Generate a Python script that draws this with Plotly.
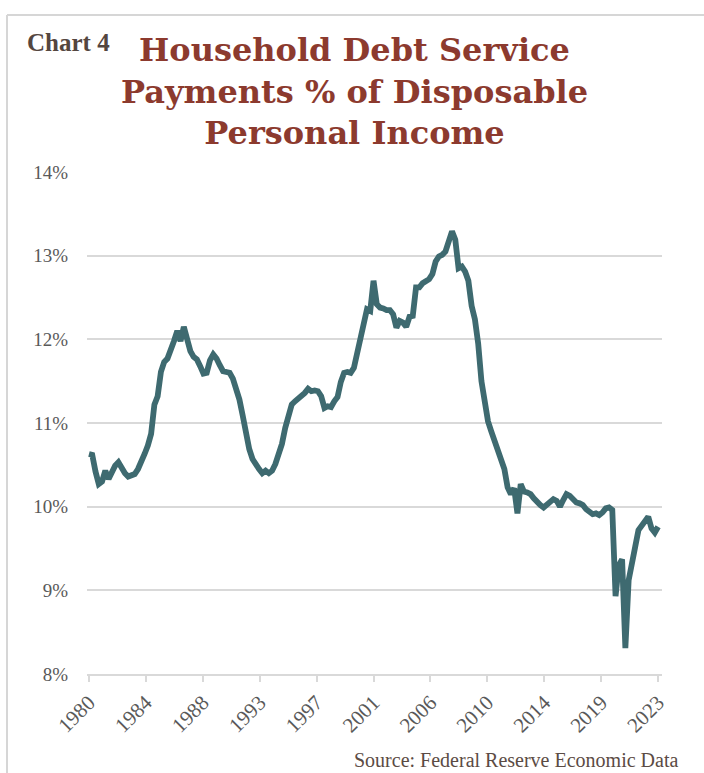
import numpy as np
import pandas as pd
import plotly.graph_objects as go

# Household debt service payments as a share of disposable personal income, quarterly
quarters = pd.period_range("1980Q1", "2023Q3", freq="Q")
debt_service_pct = [
    10.63, 10.62, 10.42, 10.27,   # 1980
    10.30, 10.43, 10.33, 10.41,   # 1981
    10.49, 10.53, 10.45, 10.40,   # 1982
    10.36, 10.38, 10.39, 10.45,   # 1983
    10.53, 10.63, 10.73, 10.87,   # 1984
    11.22, 11.32, 11.61, 11.73,   # 1985
    11.77, 11.86, 11.98, 12.10,   # 1986
    11.98, 12.15, 12.01, 11.86,   # 1987
    11.79, 11.76, 11.68, 11.59,   # 1988
    11.60, 11.75, 11.82, 11.77,   # 1989
    11.69, 11.62, 11.61, 11.60,   # 1990
    11.53, 11.42, 11.28, 11.09,   # 1991
    10.87, 10.69, 10.57, 10.50,   # 1992
    10.45, 10.40, 10.43, 10.40,   # 1993
    10.43, 10.51, 10.63, 10.75,   # 1994
    10.94, 11.12, 11.22, 11.26,   # 1995
    11.29, 11.32, 11.36, 11.41,   # 1996
    11.38, 11.39, 11.38, 11.32,   # 1997
    11.18, 11.20, 11.19, 11.26,   # 1998
    11.31, 11.49, 11.60, 11.61,   # 1999
    11.60, 11.66, 11.83, 12.03,   # 2000
    12.13, 12.36, 12.34, 12.70,   # 2001
    12.42, 12.38, 12.37, 12.35,   # 2002
    12.35, 12.30, 12.14, 12.22,   # 2003
    12.20, 12.15, 12.27, 12.28,   # 2004
    12.62, 12.62, 12.67, 12.70,   # 2005
    12.72, 12.78, 12.93, 12.99,   # 2006
    13.01, 13.05, 13.15, 13.29,   # 2007
    13.19, 12.85, 12.87, 12.81,   # 2008
    12.70, 12.40, 12.24, 11.95,   # 2009
    11.50, 11.20, 11.02, 10.90,   # 2010
    10.78, 10.68, 10.56, 10.45,   # 2011
    10.23, 10.15, 10.22, 9.92,    # 2012
    10.27, 10.18, 10.17, 10.15,   # 2013
    10.10, 10.05, 10.02, 9.99,    # 2014
    10.02, 10.05, 10.09, 10.07,   # 2015
    10.00, 10.08, 10.15, 10.13,   # 2016
    10.08, 10.05, 10.04, 10.02,   # 2017
    9.97, 9.93, 9.91, 9.92,       # 2018
    9.90, 9.93, 9.98, 9.99,       # 2019
    9.96, 8.93, 9.30, 9.37,       # 2020
    8.31, 9.12, 9.36, 9.52,       # 2021
    9.72, 9.78, 9.83, 9.88,       # 2022
    9.74, 9.69, 9.76,             # 2023
]
year_tick_labels = ["1980", "1984", "1988", "1993", "1997", "2001",
                    "2006", "2010", "2014", "2019", "2023"]
pct_ticks = [8, 9, 10, 11, 12, 13, 14]

# fractional year for each quarter
x_years = np.array([q.year + (q.quarter - 1) / 4 for q in quarters])

W_PX, H_PX = 704, 773
M_L, M_R, M_T, M_B = 87, 42, 172, 99
plot_w = W_PX - M_L - M_R
plot_h = H_PX - M_T - M_B


def px_x(px):
    return (px - M_L) / plot_w


def px_y(py):
    return (H_PX - M_B - py) / plot_h


# small padding so the thick line end caps are not clipped
pad_left, pad_right = 0.15, 0.3
tick_positions = np.linspace(x_years[0], x_years[-1], len(year_tick_labels))

line_color = "#3e6a70"
grid_color = "#d9d9d9"
label_grey = "#595959"

fig = go.Figure(
    go.Scatter(
        x=x_years,
        y=debt_service_pct,
        mode="lines",
        line=dict(color=line_color, width=5.8),
        hoverinfo="skip",
    )
)

fig.update_layout(
    width=W_PX,
    height=H_PX,
    autosize=False,
    margin=dict(l=M_L, r=M_R, t=M_T, b=M_B),
    paper_bgcolor="white",
    plot_bgcolor="white",
    showlegend=False,
    xaxis=dict(
        range=[x_years[0] - pad_left, x_years[-1] + pad_right],
        tickmode="array",
        tickvals=tick_positions,
        ticktext=year_tick_labels,
        tickangle=-45,
        tickfont=dict(family="Liberation Serif", size=21, color=label_grey),
        showgrid=False,
        zeroline=False,
        showline=True,
        linecolor=grid_color,
        linewidth=2,
        ticks="outside",
        ticklen=6,
        tickwidth=1.5,
        tickcolor=grid_color,
    ),
    yaxis=dict(
        range=[8, 14],
        tickmode="array",
        tickvals=pct_ticks,
        ticktext=[f"{v}%" for v in pct_ticks],
        tickfont=dict(family="Liberation Serif", size=19, color=label_grey),
        showgrid=True,
        gridcolor=grid_color,
        gridwidth=2,
        zeroline=False,
        showline=False,
        ticks="",
        ticklabelstandoff=18,
    ),
)

# thin frame along the top and left of the card
frame = dict(type="line", xref="paper", yref="paper",
             line=dict(color="#d6d6d6", width=2), layer="below")
fig.add_shape(**frame, x0=px_x(7), x1=px_x(7), y0=px_y(15), y1=px_y(H_PX + 5))
fig.add_shape(**frame, x0=px_x(7), x1=px_x(W_PX + 5), y0=px_y(15), y1=px_y(15))

fig.add_annotation(
    text="<b>Chart 4</b>",
    xref="paper", yref="paper",
    x=px_x(25), y=px_y(42),
    xanchor="left", yanchor="middle",
    showarrow=False,
    font=dict(family="Liberation Serif", size=25, color="#54463f"),
)

fig.add_annotation(
    text="<b>Household Debt Service<br>Payments % of Disposable<br>Personal Income</b>",
    xref="paper", yref="paper",
    x=px_x(354), y=px_y(92),
    xanchor="center", yanchor="middle",
    showarrow=False,
    align="center",
    font=dict(family="DejaVu Serif", size=32, color="#8c3a2e"),
)

fig.add_annotation(
    text="Source: Federal Reserve Economic Data",
    xref="paper", yref="paper",
    x=px_x(680), y=px_y(760),
    xanchor="right", yanchor="middle",
    showarrow=False,
    font=dict(family="Liberation Serif", size=20, color="#5b4b44"),
)

fig.write_html("out.html")
